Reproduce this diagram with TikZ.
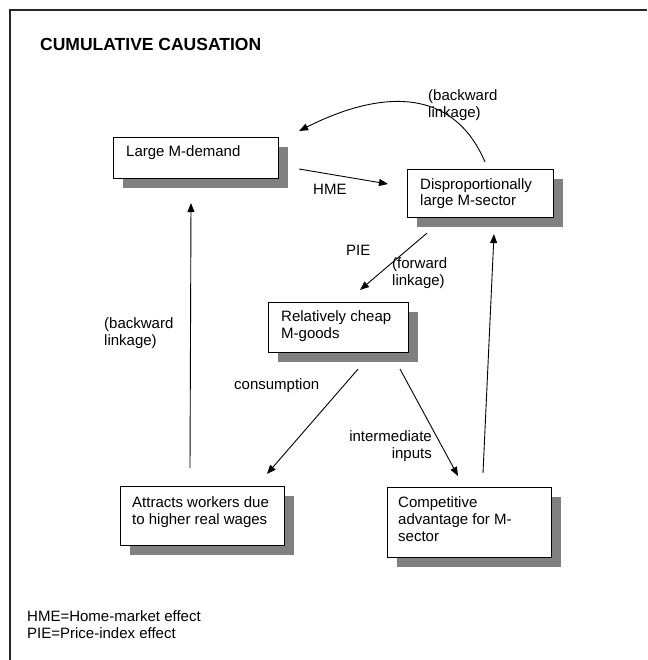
\documentclass[tikz,border=0pt]{standalone}
\usepackage{fontspec}
\setmainfont{Liberation Sans}
\usetikzlibrary{arrows.meta,calc,shadows}

\begin{document}
\begin{tikzpicture}[x=1pt,y=-1pt,
  box/.style={draw=black, line width=1.1pt, fill=white, rectangle, inner sep=0pt,
    anchor=north west,
    drop shadow={shadow xshift=9pt, shadow yshift=-9pt, fill=black!50, opacity=1}},
  % multi-line texts are placed by the baseline of their last line
  txt/.style={anchor=base west, inner sep=0pt, align=left,
    font=\fontsize{15}{17}\selectfont},
  arr/.style={line width=0.9pt, -{Triangle[length=9pt,width=7pt]}},
  frame/.style={line width=1.5pt, draw=black!85},
]
\useasboundingbox (0,0) rectangle (647,660);

% page frame (top and left rules)
\draw[frame] (647,10) -- (10,10) -- (10,660);

% title
\node[txt, font=\bfseries\fontsize{17.5}{20}\selectfont] (title) at (40,51) {CUMULATIVE CAUSATION};

% boxes
\node[box, minimum width=165pt, minimum height=41pt] (ld) at (113,137) {};
\node[box, minimum width=146pt, minimum height=48pt] (ds) at (407,169) {};
\node[box, minimum width=140pt, minimum height=50pt] (rc) at (268,302) {};
\node[box, minimum width=164pt, minimum height=59pt] (aw) at (120,486) {};
\node[box, minimum width=164pt, minimum height=70pt] (ca) at (387,487) {};

% box texts
\node[txt] (ldt) at (126,157) {Large M-demand};
\node[txt] (dst) at (420,206) {Disproportionally\\large M-sector};
\node[txt] (rct) at (281,338) {Relatively cheap\\M-goods};
\node[txt] (awt) at (132,524) {Attracts workers due\\to higher real wages};
\node[txt] (cat) at (398,541) {Competitive\\advantage for M-\\sector};

% connectors
\draw[arr] ($(ds.north west)+(78,-7)$) .. controls (450,80) and (370,95) .. ($(ld.north east)+(20,-6)$);
\draw[arr] ($(ld.north east)+(20,32)$) -- ($(ds.north west)+(-19,15)$);
\draw[arr] ($(ds.south west)+(20,15)$) -- ($(rc.north west)+(92,-12)$);
\draw[arr] ($(rc.south west)+(90,16)$) -- ($(aw.north west)+(147,-12)$);
\draw[arr] ($(rc.south west)+(132,16)$) -- ($(ca.north west)+(71,-11)$);
\draw[arr] ($(ca.north west)+(96,-14)$) -- ($(ds.south west)+(87,16)$);
\draw[arr] ($(aw.north west)+(70,-18)$) -- ($(ld.south west)+(78,24)$);

% connector labels
\node[txt] (lbk1) at (428,118) {(backward\\linkage)};
\node[txt] (lhme) at (313,195) {HME};
\node[txt] (lpie) at (346,255) {PIE};
\node[txt] (lfwd) at (392,285) {(forward\\linkage)};
\node[txt] (lbk2) at (104,345) {(backward\\linkage)};
\node[txt] (lcons) at (234,389) {consumption};
\node[txt, anchor=base east, align=right] (lint) at (432,458) {intermediate\\inputs};

% footnote
\node[txt] (note) at (27,638) {HME=Home-market effect\\PIE=Price-index effect};
\end{tikzpicture}
\end{document}
